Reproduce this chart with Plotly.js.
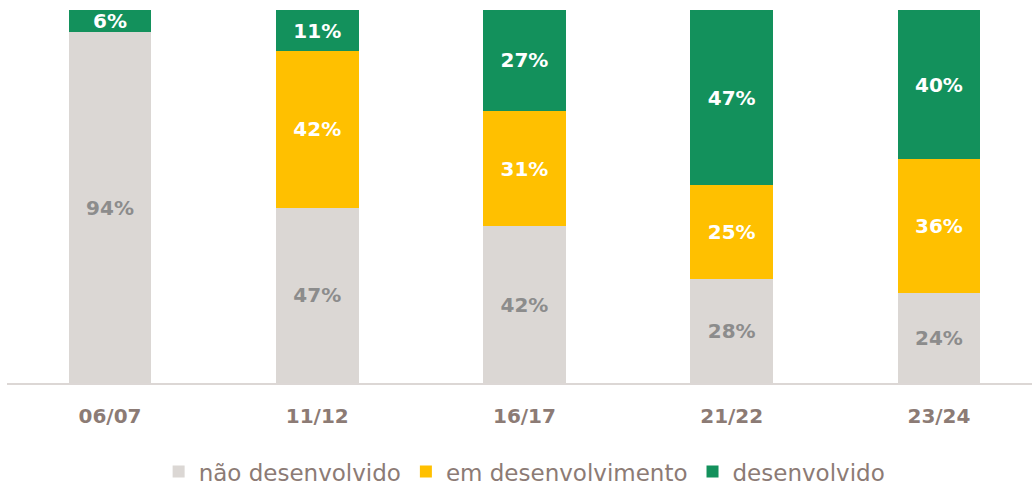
<!DOCTYPE html>
<html>
<head>
<meta charset="utf-8">
<script src="https://cdn.plot.ly/plotly-3.0.1.min.js"></script>
<style>html,body{margin:0;padding:0;background:#fff;}#chart{width:1032px;height:485px;}</style>
</head>
<body>
<div id="chart"></div>
<script>
const categories = ["06/07", "11/12", "16/17", "21/22", "23/24"];
const naoDesenvolvido = [94, 47, 42, 28, 24];
const emDesenvolvimento = [0, 42, 31, 25, 36];
const desenvolvido = [6, 11, 27, 47, 40];
const seriesNames = ["não desenvolvido", "em desenvolvimento", "desenvolvido"];

const FONT = "DejaVu Sans, sans-serif";
function labels(vals){ return vals.map(v => v > 0 ? v + "%" : ""); }

function mk(name, vals, color, textColor){
  return {
    type: "bar", name: name, x: categories, y: vals,
    marker: {color: color, line: {width: 0}},
    text: labels(vals), texttemplate: "%{text}",
    textposition: "inside", insidetextanchor: "middle",
    textfont: {family: FONT, size: 20, color: textColor, weight: "bold"},
    width: 0.4, hoverinfo: "skip"
  };
}

const data = [
  mk(seriesNames[0], naoDesenvolvido, "#DBD7D4", "#8C8C8C"),
  mk(seriesNames[1], emDesenvolvimento, "#FFC000", "#FFFFFF"),
  mk(seriesNames[2], desenvolvido, "#13915C", "#FFFFFF")
];

const layout = {
  width: 1032, height: 485,
  margin: {l: 7, r: 0, t: 10, b: 102, autoexpand: false},
  paper_bgcolor: "#fff", plot_bgcolor: "#fff",
  barmode: "stack",
  uniformtext: {mode: "show", minsize: 20},
  showlegend: true,
  legend: {
    orientation: "h", x: 0.505, xanchor: "center", y: -0.18, yanchor: "top",
    font: {family: FONT, size: 23, color: "#8C7B75"},
    traceorder: "normal", itemclick: false, itemdoubleclick: false
  },
  xaxis: {
    type: "category", range: [-0.497, 4.449],
    showline: true, linecolor: "#DCD7D5", linewidth: 2,
    ticks: "", showgrid: false, zeroline: false,
    tickfont: {family: FONT, size: 20, color: "#8C7B75", weight: "bold"},
    ticklabelstandoff: 14
  },
  yaxis: {range: [0, 100], visible: false, showgrid: false, zeroline: false}
};

Plotly.newPlot("chart", data, layout, {displayModeBar: false, staticPlot: true});
</script>
</body>
</html>
